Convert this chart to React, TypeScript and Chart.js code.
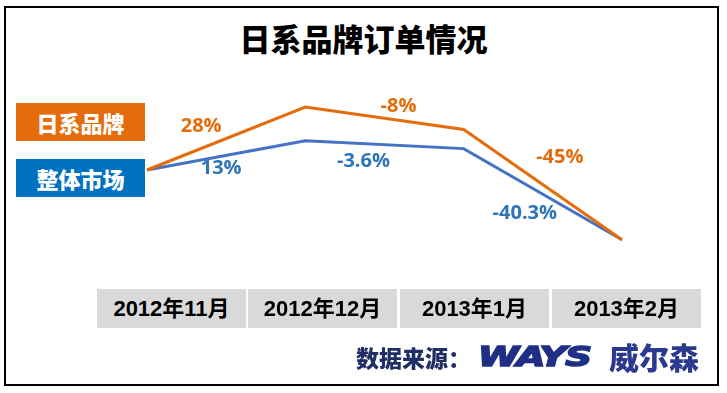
import React, { useEffect, useRef } from "react";
import { Chart, registerables } from "chart.js";

Chart.register(...registerables);

const title = "日系品牌订单情况";
const categories = ["2012年11月", "2012年12月", "2013年1月", "2013年2月"];
const seriesNames = ["日系品牌", "整体市场"];
// order index (start = 100)
const japanValues = [100, 128, 118, 69];
const marketValues = [100, 113, 109.5, 69];
const japanChangeLabels = ["28%", "-8%", "-45%"];
const marketChangeLabels = ["13%", "-3.6%", "-40.3%"];
const sourceLabel = "数据来源：";
const logoText = "WAYS";
const logoName = "威尔森";

const ORANGE = "#E46C0A";
const BLUE_BOX = "#0070C0";
const BLUE_LINE = "#4472C4";
const BLUE_TEXT = "#2E75B6";

const labelOffsets: Record<number, [number, number][]> = {
  0: [[-25, -12], [14, -12], [17, -27]],
  1: [[-5, 13], [-21, 17], [-18, 19]],
};

const labelPlugin = {
  id: "segLabels",
  afterDatasetsDraw(chart: any) {
    const ctx = chart.ctx;
    ctx.save();
    ctx.font = "bold 20px 'Open Sans', Lato, sans-serif";
    ctx.textAlign = "center";
    ctx.textBaseline = "middle";
    chart.data.datasets.forEach((ds: any, di: number) => {
      const meta = chart.getDatasetMeta(di);
      const labels: string[] = ds.segLabels;
      labels.forEach((t, i) => {
        const a = meta.data[i];
        const b = meta.data[i + 1];
        const [dx, dy] = labelOffsets[di][i];
        ctx.fillStyle = ds.labelColor;
        ctx.fillText(t, (a.x + b.x) / 2 + dx, (a.y + b.y) / 2 + dy);
      });
    });
    ctx.restore();
  },
};

export default function App() {
  const ref = useRef<HTMLCanvasElement>(null);
  useEffect(() => {
    if (!ref.current) return;
    const chart = new Chart(ref.current, {
      type: "line",
      data: {
        labels: categories,
        datasets: [
          {
            label: seriesNames[0],
            data: japanValues,
            borderColor: ORANGE,
            borderWidth: 3,
            pointRadius: 0,
            tension: 0,
            clip: false,
            segLabels: japanChangeLabels,
            labelColor: ORANGE,
          } as any,
          {
            label: seriesNames[1],
            data: marketValues,
            borderColor: BLUE_LINE,
            borderWidth: 3,
            pointRadius: 0,
            tension: 0,
            clip: false,
            segLabels: marketChangeLabels,
            labelColor: BLUE_TEXT,
          } as any,
        ],
      },
      options: {
        animation: false,
        responsive: false,
        maintainAspectRatio: false,
        layout: { padding: { left: 147, right: 105, top: 80, bottom: 133 } },
        plugins: { legend: { display: false }, tooltip: { enabled: false }, title: { display: false } },
        scales: {
          x: { display: false, offset: false },
          y: { display: false, min: 60, max: 140 },
        },
      },
      plugins: [labelPlugin],
    });
    return () => chart.destroy();
  }, []);

  const cjk = "'Liberation Sans', 'Noto Sans CJK SC', sans-serif";
  const boxes = [
    [97, 149],
    [248, 149],
    [400, 149],
    [552, 149],
  ];

  return (
    <div
      style={{
        position: "absolute",
        left: 0,
        top: 0,
        width: 727,
        height: 393,
        background: "#fff",
        overflow: "hidden",
        fontFamily: cjk,
      }}
    >
      <div
        style={{
          position: "absolute",
          left: 4,
          top: 6,
          width: 711,
          height: 376,
          border: "2px solid #000",
        }}
      />
      <div
        style={{
          position: "absolute",
          left: 0,
          width: 727,
          top: 20,
          textAlign: "center",
          fontSize: 31,
          fontWeight: 900,
          fontFamily: "'Noto Sans CJK SC', sans-serif",
          lineHeight: "36px",
          color: "#000",
          paddingRight: 6,
        }}
      >
        {title}
      </div>
      {seriesNames.map((n, i) => (
        <div
          key={n}
          style={{
            position: "absolute",
            left: 16,
            top: i === 0 ? 103 : 159,
            width: 129,
            height: 38,
            background: i === 0 ? ORANGE : BLUE_BOX,
            color: "#fff",
            fontSize: 22,
            fontWeight: 900,
            fontFamily: "'Noto Sans CJK SC', sans-serif",
            lineHeight: "38px",
            textAlign: "center",
          }}
        >
          {n}
        </div>
      ))}
      <canvas ref={ref} width={727} height={393} style={{ position: "absolute", left: 0, top: 0, width: 727, height: 393 }} />
      {categories.map((c, i) => (
        <div
          key={c}
          style={{
            position: "absolute",
            left: boxes[i][0],
            top: 289,
            width: boxes[i][1],
            height: 39,
            background: "#D9D9D9",
            color: "#000",
            fontSize: 22,
            fontWeight: "bold",
            lineHeight: "39px",
            textAlign: "center",
          }}
        >
          {c}
        </div>
      ))}
      <div
        style={{
          position: "absolute",
          left: 356,
          top: 340,
          height: 34,
          lineHeight: "34px",
          whiteSpace: "nowrap",
          fontSize: 23,
          fontWeight: 900,
          color: "#1F2F66",
          fontFamily: "'Noto Sans CJK SC', sans-serif",
        }}
      >
        {sourceLabel}
      </div>
      <div
        style={{
          position: "absolute",
          left: 478,
          top: 340,
          height: 34,
          lineHeight: "34px",
          whiteSpace: "nowrap",
          fontSize: 27,
          fontWeight: "bold",
          fontStyle: "italic",
          color: "#1F2F86",
          fontFamily: "'DejaVu Sans', 'Liberation Sans', sans-serif",
          transform: "scaleX(1.38)",
          transformOrigin: "left center",
          letterSpacing: -1,
          WebkitTextStroke: "1.6px #1F2F86",
        }}
      >
        {logoText}
      </div>
      <div
        style={{
          position: "absolute",
          left: 609,
          top: 339,
          height: 34,
          lineHeight: "34px",
          whiteSpace: "nowrap",
          fontSize: 30,
          fontWeight: 900,
          color: "#2B3A8F",
          fontFamily: "'Noto Sans CJK SC', sans-serif",
        }}
      >
        {logoName}
      </div>
    </div>
  );
}
